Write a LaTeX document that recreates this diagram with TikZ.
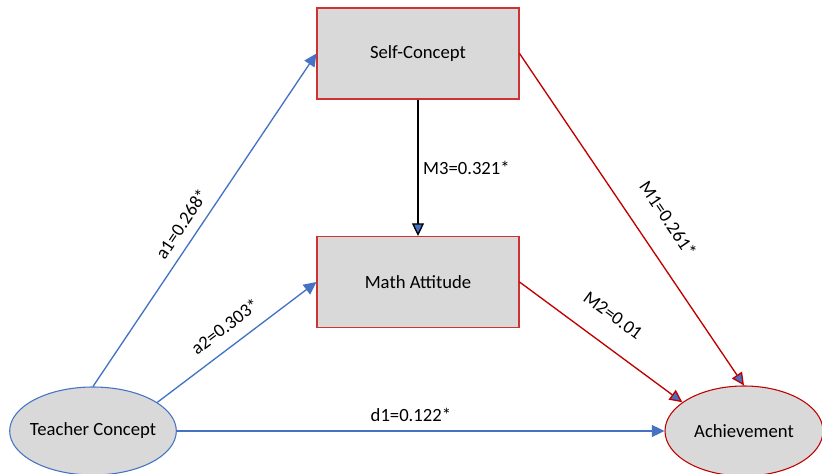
\documentclass[tikz,border=0pt]{standalone}
\usepackage{fontspec}
\setmainfont{Carlito}
\usepackage{xcolor}
\usepackage{tikz}
\usetikzlibrary{arrows.meta,shapes.geometric}
\definecolor{boxfill}{HTML}{D9D9D9}
\definecolor{lineblue}{HTML}{4472C4}
\definecolor{linered}{HTML}{C00000}
\definecolor{tipblue}{HTML}{4472C4}
\tikzset{
  box/.style={draw=linered!80, fill=boxfill, line width=0.8pt, minimum width=151.5pt, minimum height=68.25pt, inner sep=0pt},
  oval/.style={ellipse, fill=boxfill, line width=0.8pt, inner xsep=-4pt, inner ysep=0pt},
  path/.style={line width=1pt, -{Triangle[length=9.5pt, width=9pt, fill=tipblue]}},
  lab/.style={text=black, font=\fontsize{14pt}{16pt}\selectfont},
}

\begin{document}
\begin{tikzpicture}[x=0.75pt, y=-0.75pt, font=\fontsize{14pt}{16pt}\selectfont]
  \useasboundingbox (0,0) rectangle (822,474);
  % constructs
  \node[box] (self) at (418,53.5) {Self-Concept};
  \node[box] (math) at (418,282) {Math Attitude};
  \node[oval, draw=lineblue, minimum width=125pt, minimum height=66pt] (teacher) at (93,431) {Teacher Concept};
  \node[oval, draw=linered, minimum width=118.5pt, minimum height=67.5pt] (achieve) at (744,431) {Achievement};
  % paths
  \draw[path, draw=lineblue] (teacher.north) -- node[lab, sloped, above=4pt, pos=0.46] {a1=0.268*} (self.west);
  \draw[path, draw=lineblue] (teacher.24) -- node[lab, sloped, above=6pt, pos=0.5] {a2=0.303*} (math.west);
  \draw[path, draw=lineblue] (teacher.east) -- node[lab, above=3pt, pos=0.48] {d1=0.122*} (achieve.west);
  \draw[path, draw=black] (self.south) -- node[lab, right, pos=0.5] {M3=0.321*} (math.north);
  \draw[path, draw=linered] (self.east) -- node[lab, sloped, above=14pt, pos=0.55] {M1=0.261*} (achieve.north);
  \draw[path, draw=linered] (math.east) -- node[lab, sloped, above=13pt, pos=0.47] {M2=0.01} (achieve.155);
\end{tikzpicture}
\end{document}
